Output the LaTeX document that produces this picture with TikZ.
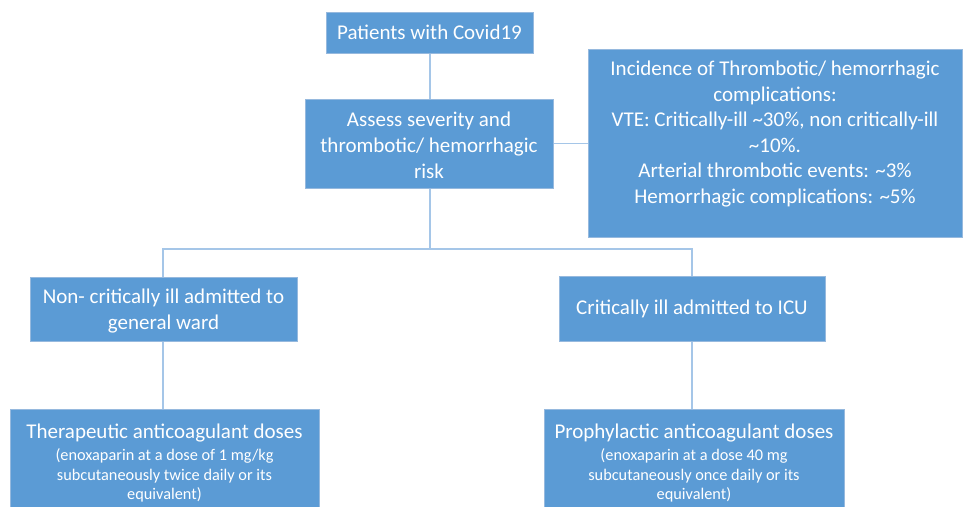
\documentclass[tikz,border=0pt]{standalone}
\usepackage{fontspec}
\setmainfont{Carlito}
\definecolor{boxfill}{RGB}{91,155,213}
\definecolor{boxedge}{RGB}{150,185,222}
\definecolor{linkcol}{RGB}{165,198,232}
\newcommand{\smallline}{\fontsize{16.3}{18.5}\selectfont}
\tikzset{
  box/.style={draw=boxedge, line width=1pt, fill=boxfill, text=white, align=center, inner sep=0pt},
  txt/.style={text=white, align=center, inner sep=0pt},
  big/.style={font=\fontsize{21}{26}\selectfont},
  link/.style={draw=linkcol, line width=1.6pt}
}
\begin{document}
\begin{tikzpicture}[x=1pt,y=-1pt]
\fill[white] (0,0) rectangle (963,506);
\useasboundingbox (0,0) rectangle (963,506);
\clip (0,0) rectangle (963,506);
% boxes
\node (b1) [box, big, minimum width=207pt, minimum height=41pt] at (429.5,32.5) {Patients with Covid19};
\node (b2) [box, minimum width=248pt, minimum height=89pt] at (429,143.5) {};
\node (t2) [txt, big] at (429,145.5) {Assess severity and\\thrombotic/ hemorrhagic\\risk};
\node (b3) [box, minimum width=374pt, minimum height=188pt] at (775,143) {};
\node (t3) [txt, font=\fontsize{21}{25.5}\selectfont, anchor=north] at (775,61) {Incidence of Thrombotic/ hemorrhagic\\complications:\\VTE: Critically-ill \textasciitilde30\%, non critically-ill\\\textasciitilde10\%.\\Arterial thrombotic events: \textasciitilde3\%\\Hemorrhagic complications: \textasciitilde5\%};
\node (b4) [box, minimum width=267pt, minimum height=64pt] at (163.5,309) {};
\node (t4) [txt, big] at (163.5,311.5) {Non- critically ill admitted to\\general ward};
\node (b5) [box, big, minimum width=266pt, minimum height=65pt] at (692,308.5) {Critically ill admitted to ICU};
\node (b6) [box, anchor=north, minimum width=309pt, minimum height=120pt] at (164.5,409) {};
\node (t6) [txt, anchor=north, font=\fontsize{21}{24}\selectfont] at (164.5,424) {Therapeutic anticoagulant doses\\[-2pt]
  \smallline (enoxaparin at a dose of 1 mg/kg\\[-4.5pt]\smallline subcutaneously twice daily or its\\[-4.5pt]\smallline equivalent)};
\node (b7) [box, anchor=north, minimum width=300pt, minimum height=120pt] at (694,409) {};
\node (t7) [txt, anchor=north, font=\fontsize{21}{24}\selectfont] at (694,424) {Prophylactic anticoagulant doses\\[-2pt]
  \smallline (enoxaparin at a dose 40 mg\\[-4.5pt]\smallline subcutaneously once daily or its\\[-4.5pt]\smallline equivalent)};
% connectors
\coordinate (split) at (430,249);
\coordinate (lx) at (163,0);
\path[link] (b1.south -| split) -- (b2.north -| split);
\path[link] (b2.east) -- (b2.east -| b3.west);
\path[link] (b2.south -| split) -- (split);
\path[link] (b4.north -| lx) |- (split) -| (b5.north);
\path[link] (b4.south -| lx) -- (b6.north -| lx);
\path[link] (b5.south) -- (b7.north -| b5.south);
\end{tikzpicture}
\end{document}
